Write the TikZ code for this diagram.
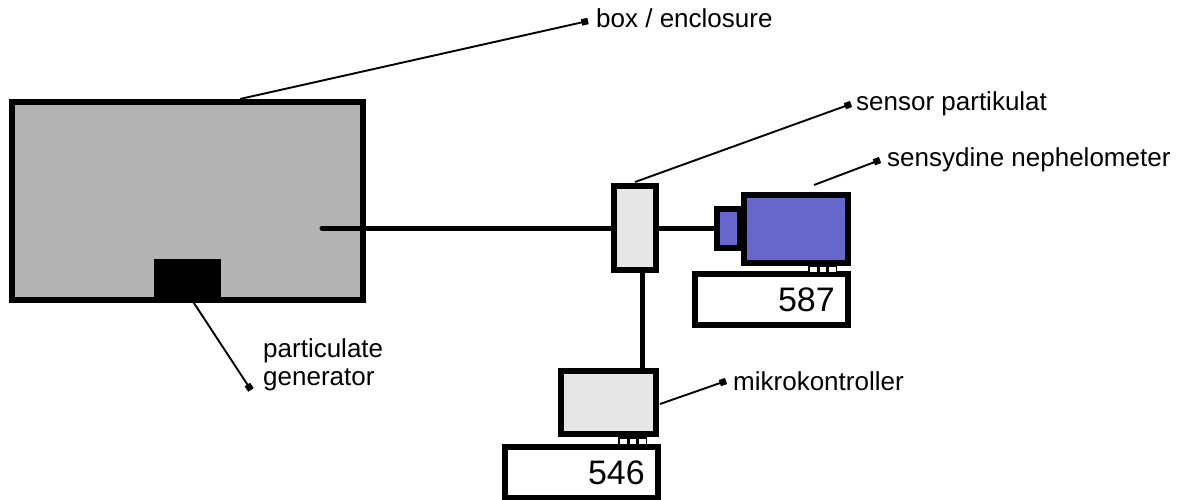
\documentclass[tikz,border=0pt]{standalone}
\usepackage{fontspec}
\setmainfont{Liberation Sans}
\usetikzlibrary{arrows.meta}
\definecolor{enclgray}{HTML}{B3B3B3}
\definecolor{partgray}{HTML}{E6E6E6}
\definecolor{nephblue}{HTML}{6666CC}
\tikzset{
  unit/.style={draw=black, line width=6pt, rectangle, inner sep=0pt, outer sep=0pt},
  pipe/.style={line width=5pt},
  leader/.style={line width=1.9pt, -{Square[length=6.5pt,width=6.5pt]}},
  lbl/.style={font=\fontsize{26}{28}\selectfont, inner sep=0pt, anchor=base west, align=left},
  display/.style={unit, fill=white},
  readout/.style={anchor=east, inner sep=0pt, font=\fontsize{34}{36}\selectfont},
}
\begin{document}
\begin{tikzpicture}[x=1pt, y=-1pt]
\useasboundingbox (0,0) rectangle (1187,500);

% enclosure with the particle generator at its floor
\node[unit, fill=enclgray, minimum width=351pt, minimum height=198pt] (encl) at (187.5,201) {};
\node[fill=black, inner sep=0pt, minimum width=67pt, minimum height=38pt] (gen) at (187.5,278) {};
\coordinate (encl-port) at (322,228);

% particulate sensor
\node[unit, fill=partgray, minimum width=42pt, minimum height=84pt] (sensor) at (635,228) {};

% nephelometer: inlet nozzle and body
\node[unit, fill=nephblue, minimum width=23pt, minimum height=38pt] (nozzle) at (728,228.5) {};
\node[unit, fill=nephblue, minimum width=104pt, minimum height=68pt] (neph) at (796,229) {};

% nephelometer readout
\node[display, minimum width=153pt, minimum height=51pt] (disp1) at (771.5,299.5) {};
\node[readout] (val1) at (835,300) {587};
\fill[black] (808,265) rectangle (837,272);
\foreach \x in {810,819.5,829} \fill[white] (\x,267) rectangle ++(6.5,5);

% microcontroller and its readout
\node[unit, fill=partgray, minimum width=95pt, minimum height=63pt] (mcu) at (608.5,402.5) {};
\node[display, minimum width=153pt, minimum height=51pt] (disp2) at (581.5,472.5) {};
\node[readout] (val2) at (645,473) {546};
\fill[black] (618,437) rectangle (647,444);
\foreach \x in {620,629.5,639} \fill[white] (\x,439) rectangle ++(6.5,5);

% tubing and wiring
\draw[pipe, line cap=round] (encl-port) -- (encl-port -| sensor.west);
\draw[pipe] (sensor.east |- encl-port) -- (encl-port -| nozzle.west);
\draw[pipe] ([xshift=7pt]sensor.south) -- ([xshift=7pt]sensor.south |- mcu.north);

% redraw borders over the tubing ends
\node[unit, minimum width=42pt, minimum height=84pt] at (sensor) {};
\node[unit, minimum width=23pt, minimum height=38pt] at (nozzle) {};

% labels with leader lines
\coordinate (a-encl) at (240,99);
\coordinate (m-encl) at (588,21);
\node[lbl] (t-encl) at (596,28) {box / enclosure};
\draw[leader] (a-encl) -- (m-encl);

\coordinate (a-sensor) at (635,182);
\coordinate (m-sensor) at (851,104);
\node[lbl] (t-sensor) at (856,111) {sensor partikulat};
\draw[leader] (a-sensor) -- (m-sensor);

\coordinate (a-neph) at (814,185);
\coordinate (m-neph) at (880,160);
\node[lbl] (t-neph) at (887,167) {sensydine nephelometer};
\draw[leader] (a-neph) -- (m-neph);

\coordinate (a-mcu) at (660,404);
\coordinate (m-mcu) at (726,381);
\node[lbl] (t-mcu) at (733,390) {mikrokontroller};
\draw[leader] (a-mcu) -- (m-mcu);

\coordinate (a-gen) at (190,297);
\coordinate (m-gen) at (251,390);
\node[lbl] (t-gen) at (263,385) {particulate\\generator};
\draw[leader] (a-gen) -- (m-gen);
\end{tikzpicture}
\end{document}
